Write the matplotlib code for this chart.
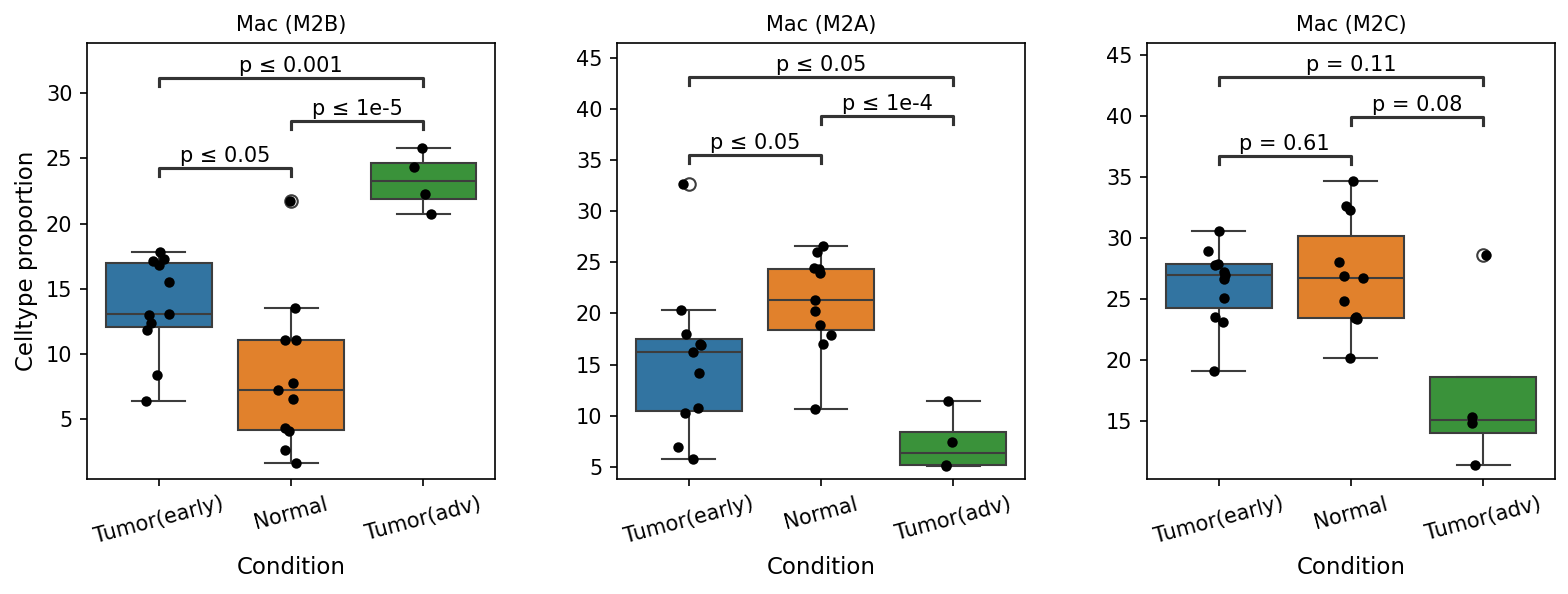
import numpy as np
import pandas as pd
import matplotlib
matplotlib.use("Agg")
import matplotlib.pyplot as plt
import seaborn as sns

conditions = ["Tumor(early)", "Normal", "Tumor(adv)"]
titles = ["Mac (M2B)", "Mac (M2A)", "Mac (M2C)"]

# celltype proportions per sample
m2b_early = [17.8, 17.3, 17.15, 16.8, 15.5, 13.05, 13.0, 12.35, 11.8, 8.35, 6.35]
m2b_normal = [21.7, 13.5, 11.1, 11.05, 7.8, 7.25, 6.5, 4.3, 4.05, 2.6, 1.6]
m2b_adv = [25.8, 24.3, 22.25, 20.7]

m2a_early = [32.65, 20.3, 18.0, 17.05, 16.9, 16.2, 14.2, 10.7, 10.3, 6.9, 5.75]
m2a_normal = [26.6, 26.0, 24.4, 24.3, 24.0, 21.3, 20.2, 18.9, 17.9, 17.0, 10.65]
m2a_adv = [11.4, 7.4, 5.2, 5.1]

m2c_early = [30.6, 28.9, 27.85, 27.8, 27.2, 26.95, 26.6, 25.05, 23.5, 23.1, 19.05]
m2c_normal = [34.7, 32.6, 32.3, 28.0, 26.85, 26.7, 24.8, 23.5, 23.4, 23.3, 20.1]
m2c_adv = [28.6, 15.25, 14.8, 11.35]

panels = [
    [m2b_early, m2b_normal, m2b_adv],
    [m2a_early, m2a_normal, m2a_adv],
    [m2c_early, m2c_normal, m2c_adv],
]

pairs = [(0, 1), (1, 2), (0, 2)]
p_labels = [
    ["p ≤ 0.05", "p ≤ 1e-5", "p ≤ 0.001"],
    ["p ≤ 0.05", "p ≤ 1e-4", "p ≤ 0.05"],
    ["p = 0.61", "p = 0.08", "p = 0.11"],
]

# layout: bracket heights and y limits per panel
bracket_y = [[24.25, 27.85, 31.15], [35.5, 39.3, 43.15], [36.75, 39.95, 43.2]]
ylims = [(0.4, 33.85), (3.8, 46.45), (10.2, 46.0)]

palette = sns.color_palette("tab10", 3)

fig, axes = plt.subplots(1, 3, figsize=(1568 / 150, 594 / 150), dpi=150)
fig.subplots_adjust(left=0.0555, right=0.9917, bottom=0.1936, top=0.9276, wspace=0.299)

np.random.seed(3)
for i, ax in enumerate(axes):
    rows = []
    for cond, vals in zip(conditions, panels[i]):
        for v in vals:
            rows.append((cond, v))
    df = pd.DataFrame(rows, columns=["Condition", "Celltype proportion"])

    sns.boxplot(data=df, x="Condition", y="Celltype proportion", hue="Condition",
                order=conditions, palette=palette, legend=False, ax=ax)
    sns.stripplot(data=df, x="Condition", y="Celltype proportion", order=conditions,
                  color="black", size=5, jitter=True, ax=ax)

    ax.set_ylim(*ylims[i])
    tip = 0.019 * (ylims[i][1] - ylims[i][0])
    for (a, b), lab, y in zip(pairs, p_labels[i], bracket_y[i]):
        ax.plot([a, a, b, b], [y - tip, y, y, y - tip], color="0.2", lw=1.5)
        ax.annotate(lab, xy=((a + b) / 2, y), xytext=(0, 1), textcoords="offset points",
                    ha="center", va="bottom", fontsize=10)

    ax.set_title(titles[i], fontsize=10)
    ax.set_xlabel("Condition", fontsize=11)
    if i == 0:
        ax.set_ylabel("Celltype proportion", fontsize=11)
    else:
        ax.set_ylabel("")
    ax.tick_params(axis="x", labelrotation=15)

fig.savefig("out.png", dpi=150)
